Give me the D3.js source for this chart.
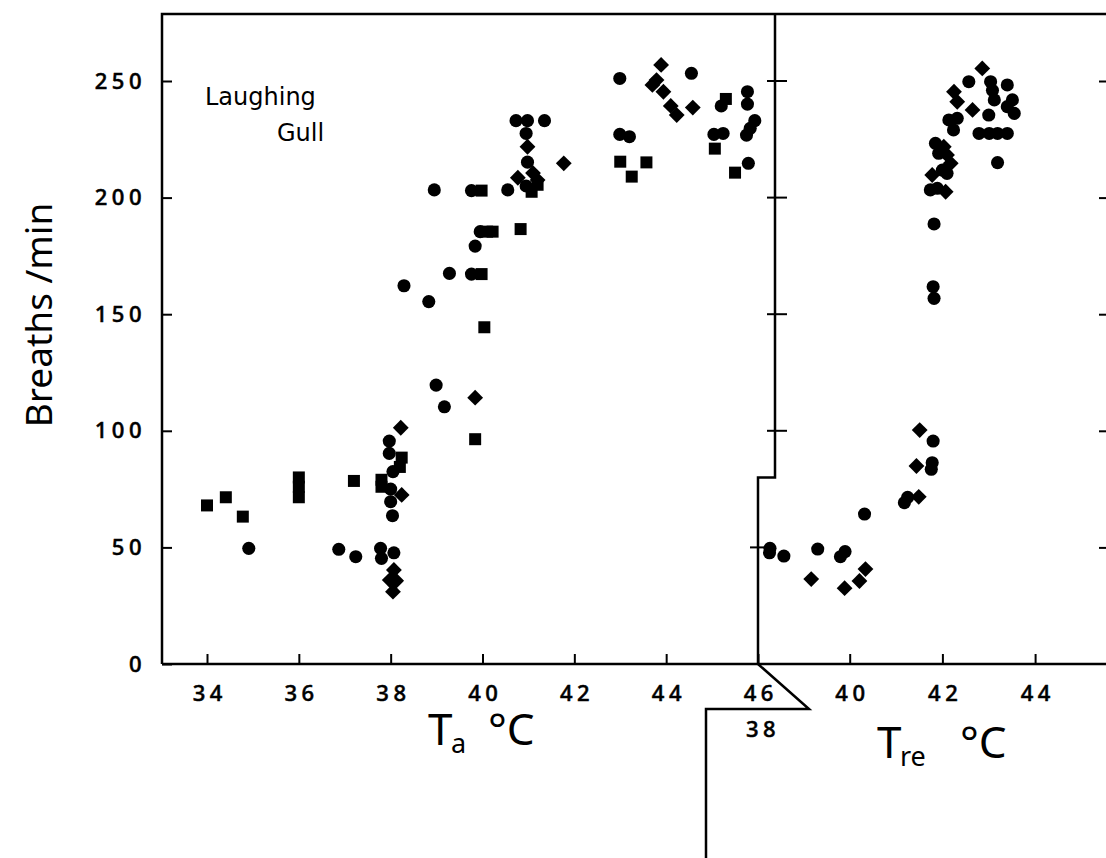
<!DOCTYPE html>
<html>
<head>
<meta charset="utf-8">
<script src="https://cdn.jsdelivr.net/npm/d3@7"></script>
<style>
  body { margin: 0; background: #fff; }
  svg { display: block; }
</style>
</head>
<body>
<div id="chart"></div>
<script>
// breaths/min against air temperature (T_a), left panel
const taSquares = [
  [34.0, 68], [34.41, 71.5], [34.78, 63.2], [36.0, 80], [36.0, 76], [36.0, 71.5],
  [37.2, 78.5], [37.8, 79], [37.8, 76], [38.24, 88.5], [38.2, 84.5], [39.84, 96.4],
  [40.04, 144.4], [39.98, 167.2], [40.1, 185.4], [40.22, 185.4], [39.98, 203],
  [40.83, 186.5], [41.07, 202.5], [41.2, 205.5], [43.0, 215.4], [43.57, 215.1],
  [43.25, 209], [45.06, 221], [45.3, 242.3], [45.5, 210.7],
]
const taCircles = [
  [34.91, 49.6], [36.87, 49.2], [37.24, 46], [37.78, 49.6], [37.8, 45.3], [38.07, 47.7],
  [38.04, 63.6], [38.0, 69.6], [38.0, 75], [38.05, 82.5], [37.97, 90.3], [37.97, 95.6],
  [38.29, 162.2], [38.83, 155.4], [38.99, 119.6], [39.17, 110.3], [38.95, 203.3],
  [39.28, 167.5], [39.76, 167.2], [39.84, 179.2], [39.95, 185.4], [39.76, 203],
  [40.55, 203.3], [40.95, 205], [40.98, 215.2], [40.95, 227.5], [40.73, 233],
  [40.98, 233], [41.35, 233], [42.99, 251.1], [42.99, 227.1], [43.2, 226.1],
  [44.55, 253.3], [45.04, 227.1], [45.24, 227.5], [45.2, 239.3], [45.77, 245.4],
  [45.77, 240.1], [45.93, 233], [45.83, 229.7], [45.75, 226.8], [45.79, 214.7],
]
const taDiamonds = [
  [38.22, 101.3], [38.24, 72.5], [38.07, 40.3], [37.98, 36], [38.12, 35.7], [38.05, 31],
  [39.84, 114.2], [40.98, 221.8], [41.77, 214.7], [40.77, 208.5], [41.1, 210.5],
  [41.2, 207.5], [43.89, 256.9], [43.7, 248.3], [43.79, 250.4], [43.94, 245.4],
  [44.1, 239.3], [44.23, 235.4], [44.58, 238.6],
]

// breaths/min against rectal temperature (T_re), right panel
const treCircles = [
  [38.28, 49.6], [38.27, 47.7], [38.58, 46.3], [39.31, 49.3], [39.8, 46], [39.9, 48.2],
  [40.32, 64.3], [41.18, 69.2], [41.25, 71.5], [41.78, 86.3], [41.76, 83.5], [41.8, 95.6],
  [41.8, 161.8], [41.82, 156.8], [41.82, 188.7], [41.74, 203.3], [41.89, 204],
  [42.0, 211.8], [42.1, 210.4], [41.92, 219], [41.85, 223.3], [42.24, 229],
  [42.14, 233.3], [42.32, 234], [42.79, 227.5], [43.01, 227.5], [43.19, 227.5],
  [43.4, 227.5], [43.19, 215], [43.0, 235.4], [43.55, 236.1], [43.51, 241.9],
  [43.4, 239], [43.12, 241.9], [43.08, 246], [43.04, 249.7], [43.4, 248.3], [42.57, 249.7],
]
const treDiamonds = [
  [39.17, 36.4], [39.89, 32.5], [40.21, 35.6], [40.34, 40.7], [41.49, 71.7], [41.44, 84.9],
  [41.51, 100.3], [41.78, 209.7], [42.07, 202.5], [42.1, 218.3], [42.18, 214.7],
  [42.03, 221.8], [42.25, 245.4], [42.32, 241.1], [42.65, 237.6], [42.86, 255.4],
]

const yTicks = [0, 50, 100, 150, 200, 250]
const taTicks = [34, 36, 38, 40, 42, 44, 46]
const treTicks = [40, 42, 44]

const width = 1106
const height = 858

const svg = d3
  .select('#chart')
  .append('svg')
  .attr('width', width)
  .attr('height', height)

const y = d3.scaleLinear().domain([0, 250]).range([664, 81])
const xTa = d3.scaleLinear().domain([34, 46]).range([207, 758])
const xTre = d3.scaleLinear().domain([38, 46]).range([757, 757 + 8 * 46.35])

const frameLeft = 162
const frameTop = 14
const frameBottom = y(0)
const divX = 775
const lowX = xTa(46)
const tickFont = 'Noto Sans'
const tickSize = 22
const tickSpacing = 4.5

// frame
const frame = svg.append('g').attr('fill', 'none').attr('stroke', '#000').attr('stroke-width', 2.5)
frame.append('path').attr('d', `M${frameLeft},${frameBottom}V${frameTop}H${width}`)
frame.append('path').attr('d', `M${frameLeft},${frameBottom}H${width}`)
frame
  .append('path')
  .attr('d', `M${divX},${frameTop}V${y(80)}H${lowX}V${frameBottom}`)
frame
  .append('path')
  .attr('d', d3.line()([
    [lowX, frameBottom],
    [lowX + 51, frameBottom + 45],
    [lowX - 52, frameBottom + 45],
    [lowX - 52, height],
  ]))

// axes
function styleAxis(g) {
  g.attr('font-size', tickSize)
    .attr('font-family', tickFont)
    .attr('font-weight', 500)
    .attr('letter-spacing', tickSpacing)
  g.select('.domain').remove()
  g.selectAll('.tick line').attr('stroke', '#000').attr('stroke-width', 2)
  g.selectAll('.tick text')
    .attr('fill', '#000')
    .attr('stroke', '#000')
    .attr('stroke-width', 0.5)
}

svg
  .append('g')
  .attr('transform', `translate(${frameLeft},0)`)
  .call(d3.axisLeft(y).tickValues(yTicks).tickSizeInner(-10).tickSizeOuter(0).tickPadding(16))
  .call(styleAxis)

svg
  .append('g')
  .attr('transform', `translate(${width},0)`)
  .call(d3.axisLeft(y).tickValues(yTicks.slice(1)).tickSizeInner(7).tickSizeOuter(0).tickFormat(''))
  .call(styleAxis)

svg
  .append('g')
  .attr('transform', `translate(0,${frameBottom})`)
  .call(d3.axisBottom(xTa).tickValues(taTicks).tickSizeInner(-10).tickSizeOuter(0).tickPadding(21))
  .call(styleAxis)
  .selectAll('.tick text')
  .attr('dx', tickSpacing / 2)

svg
  .append('g')
  .attr('transform', `translate(0,${frameBottom})`)
  .call(d3.axisBottom(xTre).tickValues(treTicks).tickSizeInner(-10).tickSizeOuter(0).tickPadding(21))
  .call(styleAxis)
  .selectAll('.tick text')
  .attr('dx', tickSpacing / 2)

// ticks crossing the panel divider
svg
  .append('g')
  .selectAll('line')
  .data(yTicks.slice(1))
  .join('line')
  .attr('x1', d => (d < 80 ? lowX - 8 : divX - 8))
  .attr('x2', d => (d < 80 ? lowX + 10 : divX + 12))
  .attr('y1', d => y(d))
  .attr('y2', d => y(d))
  .attr('stroke', '#000')
  .attr('stroke-width', 2)

svg
  .append('text')
  .attr('x', xTre(38) + 6)
  .attr('y', frameBottom + 73)
  .attr('text-anchor', 'middle')
  .attr('font-family', tickFont)
  .attr('font-weight', 500)
  .attr('font-size', tickSize)
  .attr('letter-spacing', tickSpacing)
  .attr('stroke', '#000')
  .attr('stroke-width', 0.5)
  .text('38')

// markers
const circle = d3.symbol().type(d3.symbolCircle).size(135)
const square = d3.symbol().type(d3.symbolSquare).size(144)
const diamond = d3.symbol().type(d3.symbolSquare).size(125)

function plot(data, x, sym, rot) {
  svg
    .append('g')
    .selectAll('path')
    .data(data)
    .join('path')
    .attr('d', sym)
    .attr('transform', d => `translate(${x(d[0])},${y(d[1])}) rotate(${rot})`)
    .attr('fill', '#000')
}

plot(taSquares, xTa, square, 0)
plot(taCircles, xTa, circle, 0)
plot(taDiamonds, xTa, diamond, 45)
plot(treCircles, xTre, circle, 0)
plot(treDiamonds, xTre, diamond, 45)

// labels
const labelFont = 'DejaVu Sans'
svg
  .append('text')
  .attr('x', 205)
  .attr('y', 105)
  .attr('font-family', labelFont)
  .attr('font-size', 24)
  .text('Laughing')
svg
  .append('text')
  .attr('x', 277)
  .attr('y', 141)
  .attr('font-family', labelFont)
  .attr('font-size', 24)
  .text('Gull')

svg
  .append('text')
  .attr('transform', 'translate(52,315) rotate(-90)')
  .attr('text-anchor', 'middle')
  .attr('font-family', 'Noto Sans')
  .attr('font-size', 37)
  .text('Breaths /min')

function axisTitle(x, base, sub, subDx) {
  const g = svg.append('g').attr('font-family', 'Noto Sans')
  g.append('text').attr('x', x).attr('y', base).attr('font-size', 44).text('T')
  g.append('text').attr('x', x + 23).attr('y', base + 8).attr('font-size', 27).text(sub)
  g.append('text').attr('x', x + subDx).attr('y', base).attr('font-size', 44).text('°C')
}
axisTitle(428, 745, 'a', 60)
axisTitle(877, 758, 're', 83)
</script>
</body>
</html>
